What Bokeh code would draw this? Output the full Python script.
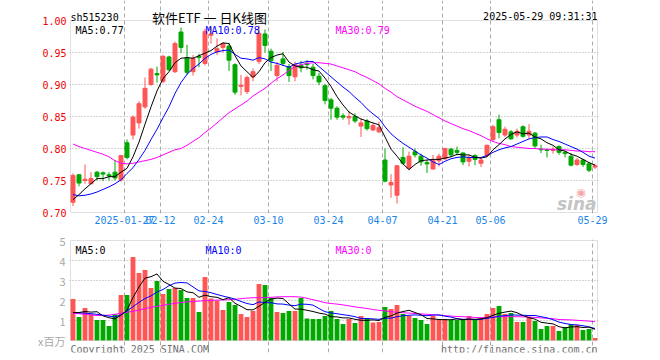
from bokeh.plotting import figure
from bokeh.models import (ColumnDataSource, FixedTicker, CustomJSTickFormatter,
                          PrintfTickFormatter, Label, Range1d, BoxAnnotation, Grid)
from bokeh.layouts import column
from bokeh.embed import file_html
from bokeh.resources import INLINE

# ---------------- data ----------------
tick_idx = [9, 15, 23, 33, 43, 52, 62, 70, 87]
tick_labels = ["2025-01-27", "02-12", "02-24", "03-10", "03-24",
               "04-07", "04-21", "05-06", "05-29"]

open_ = [0.716, 0.759, 0.750, 0.745, 0.763, 0.762, 0.759, 0.763, 0.751, 0.809,
         0.821, 0.840, 0.865, 0.900, 0.917, 0.905, 0.943, 0.920, 0.982, 0.942,
         0.920, 0.944, 0.933, 0.977, 0.951, 0.958, 0.960, 0.931, 0.897, 0.889,
         0.912, 0.936, 0.979, 0.952, 0.914, 0.940, 0.928, 0.912, 0.930, 0.933,
         0.927, 0.913, 0.898, 0.876, 0.863, 0.851, 0.848, 0.850, 0.835, 0.843,
         0.829, 0.826, 0.782, 0.743, 0.727, 0.786, 0.769, 0.795, 0.788, 0.778,
         0.768, 0.781, 0.784, 0.799, 0.797, 0.793, 0.780, 0.789, 0.777, 0.789,
         0.814, 0.845, 0.821, 0.826, 0.821, 0.834, 0.821, 0.824, 0.799, 0.798,
         0.797, 0.803, 0.794, 0.788, 0.775, 0.782, 0.776, 0.771]
high = [0.761, 0.760, 0.775, 0.763, 0.765, 0.764, 0.763, 0.782, 0.790, 0.814,
        0.852, 0.874, 0.911, 0.926, 0.928, 0.946, 0.945, 0.967, 0.989, 0.962,
        0.946, 0.948, 0.987, 0.990, 0.972, 0.966, 0.965, 0.933, 0.915, 0.914,
        0.925, 0.992, 0.986, 0.956, 0.935, 0.951, 0.932, 0.936, 0.937, 0.938,
        0.932, 0.918, 0.901, 0.879, 0.866, 0.855, 0.858, 0.855, 0.847, 0.846,
        0.840, 0.842, 0.800, 0.760, 0.774, 0.802, 0.795, 0.800, 0.792, 0.782,
        0.790, 0.792, 0.801, 0.801, 0.803, 0.794, 0.790, 0.791, 0.785, 0.806,
        0.837, 0.853, 0.834, 0.829, 0.831, 0.836, 0.838, 0.826, 0.806, 0.799,
        0.803, 0.805, 0.796, 0.793, 0.785, 0.784, 0.779, 0.776]
low = [0.710, 0.741, 0.745, 0.744, 0.750, 0.749, 0.750, 0.750, 0.748, 0.783,
       0.814, 0.831, 0.862, 0.898, 0.903, 0.902, 0.921, 0.918, 0.949, 0.915,
       0.914, 0.927, 0.930, 0.964, 0.946, 0.950, 0.921, 0.884, 0.883, 0.885,
       0.905, 0.932, 0.950, 0.921, 0.905, 0.929, 0.904, 0.905, 0.919, 0.923,
       0.908, 0.899, 0.869, 0.845, 0.845, 0.845, 0.837, 0.840, 0.818, 0.828,
       0.827, 0.824, 0.747, 0.723, 0.714, 0.775, 0.766, 0.786, 0.773, 0.762,
       0.767, 0.772, 0.782, 0.787, 0.789, 0.774, 0.772, 0.774, 0.771, 0.787,
       0.811, 0.816, 0.818, 0.814, 0.817, 0.817, 0.815, 0.801, 0.793, 0.786,
       0.792, 0.790, 0.786, 0.772, 0.773, 0.771, 0.763, 0.768]
close_ = [0.758, 0.746, 0.752, 0.753, 0.756, 0.760, 0.757, 0.754, 0.789, 0.786,
          0.849, 0.870, 0.894, 0.924, 0.915, 0.944, 0.923, 0.964, 0.958, 0.919,
          0.941, 0.942, 0.983, 0.979, 0.956, 0.964, 0.938, 0.888, 0.899, 0.911,
          0.920, 0.980, 0.961, 0.937, 0.930, 0.933, 0.914, 0.931, 0.926, 0.931,
          0.914, 0.904, 0.875, 0.863, 0.849, 0.849, 0.850, 0.843, 0.840, 0.831,
          0.836, 0.833, 0.749, 0.747, 0.773, 0.777, 0.788, 0.790, 0.779, 0.776,
          0.781, 0.788, 0.800, 0.790, 0.794, 0.779, 0.786, 0.783, 0.782, 0.805,
          0.834, 0.825, 0.830, 0.815, 0.827, 0.819, 0.827, 0.804, 0.798, 0.797,
          0.799, 0.794, 0.792, 0.774, 0.782, 0.775, 0.766, 0.773]

ma5 = [0.720, 0.728, 0.737, 0.745, 0.753, 0.753, 0.756, 0.756, 0.763, 0.769,
       0.787, 0.810, 0.838, 0.865, 0.890, 0.909, 0.920, 0.934, 0.941, 0.942,
       0.941, 0.945, 0.949, 0.953, 0.960, 0.965, 0.964, 0.945, 0.929, 0.920,
       0.911, 0.920, 0.934, 0.942, 0.946, 0.948, 0.935, 0.929, 0.927, 0.927,
       0.923, 0.921, 0.910, 0.897, 0.881, 0.868, 0.857, 0.851, 0.846, 0.843,
       0.840, 0.837, 0.818, 0.799, 0.788, 0.776, 0.767, 0.775, 0.781, 0.782,
       0.783, 0.783, 0.785, 0.787, 0.791, 0.790, 0.790, 0.786, 0.785, 0.787,
       0.798, 0.806, 0.815, 0.822, 0.826, 0.823, 0.824, 0.818, 0.815, 0.809,
       0.805, 0.798, 0.796, 0.791, 0.788, 0.783, 0.778, 0.774]
ma10 = [0.728, 0.726, 0.727, 0.729, 0.732, 0.736, 0.740, 0.745, 0.751, 0.761,
        0.770, 0.783, 0.797, 0.814, 0.830, 0.848, 0.865, 0.886, 0.903, 0.916,
        0.925, 0.932, 0.941, 0.947, 0.951, 0.953, 0.954, 0.947, 0.941, 0.940,
        0.938, 0.942, 0.940, 0.935, 0.933, 0.930, 0.927, 0.932, 0.934, 0.936,
        0.936, 0.928, 0.920, 0.912, 0.904, 0.896, 0.889, 0.880, 0.872, 0.862,
        0.854, 0.847, 0.834, 0.823, 0.815, 0.808, 0.802, 0.796, 0.790, 0.785,
        0.779, 0.775, 0.780, 0.784, 0.786, 0.787, 0.786, 0.786, 0.786, 0.789,
        0.794, 0.798, 0.801, 0.803, 0.807, 0.811, 0.815, 0.817, 0.818, 0.818,
        0.814, 0.811, 0.807, 0.803, 0.799, 0.794, 0.788, 0.785]
ma30 = [0.807, 0.803, 0.800, 0.797, 0.794, 0.791, 0.787, 0.781, 0.777, 0.776,
        0.777, 0.779, 0.781, 0.783, 0.786, 0.790, 0.794, 0.798, 0.800, 0.805,
        0.811, 0.817, 0.825, 0.832, 0.840, 0.848, 0.856, 0.862, 0.868, 0.874,
        0.882, 0.888, 0.894, 0.902, 0.909, 0.915, 0.922, 0.928, 0.931, 0.933,
        0.934, 0.934, 0.933, 0.932, 0.929, 0.926, 0.923, 0.920, 0.915, 0.911,
        0.906, 0.901, 0.894, 0.888, 0.881, 0.876, 0.871, 0.866, 0.862, 0.858,
        0.853, 0.848, 0.843, 0.839, 0.835, 0.831, 0.828, 0.824, 0.820, 0.815,
        0.811, 0.808, 0.806, 0.803, 0.802, 0.801, 0.800, 0.800, 0.799, 0.799,
        0.798, 0.798, 0.798, 0.797, 0.796, 0.796, 0.795, 0.795]

volume = [2.07, 1.17, 1.62, 1.31, 1.02, 1.02, 0.72, 1.31, 2.27, 2.27,
          4.17, 3.37, 3.52, 2.62, 2.97, 2.32, 2.57, 2.62, 2.52, 2.12,
          2.12, 1.42, 3.17, 2.10, 2.00, 1.52, 1.92, 1.77, 1.32, 1.17,
          1.47, 2.82, 2.77, 2.12, 1.42, 1.37, 1.47, 1.47, 2.12, 1.10,
          1.07, 1.07, 1.23, 1.47, 1.07, 0.82, 1.07, 0.87, 1.22, 1.07,
          0.90, 0.92, 1.67, 1.57, 1.78, 1.32, 1.23, 1.12, 1.02, 0.82,
          1.23, 1.05, 1.07, 1.02, 1.02, 1.02, 1.23, 1.02, 1.12, 1.32,
          1.62, 1.72, 1.32, 1.37, 0.92, 0.92, 1.17, 0.97, 0.57, 0.72,
          0.72, 0.47, 0.67, 0.82, 0.77, 0.52, 0.57, 0.12]
vma5 = [1.40, 1.40, 1.45, 1.42, 1.44, 1.23, 1.14, 1.08, 1.27, 1.52,
        2.15, 2.68, 3.12, 3.19, 3.33, 2.96, 2.80, 2.62, 2.60, 2.43,
        2.39, 2.16, 2.27, 2.19, 2.16, 2.04, 2.14, 1.86, 1.71, 1.54,
        1.53, 1.71, 1.91, 2.07, 2.12, 2.10, 1.83, 1.57, 1.57, 1.51,
        1.45, 1.37, 1.32, 1.19, 1.18, 1.13, 1.13, 1.06, 1.01, 1.01,
        1.03, 1.00, 1.16, 1.23, 1.37, 1.45, 1.51, 1.40, 1.29, 1.10,
        1.08, 1.05, 1.04, 1.04, 1.08, 1.04, 1.07, 1.06, 1.08, 1.14,
        1.26, 1.36, 1.42, 1.47, 1.39, 1.25, 1.14, 1.07, 0.91, 0.87,
        0.83, 0.69, 0.63, 0.68, 0.69, 0.65, 0.67, 0.56]
vma10 = [1.40, 1.38, 1.37, 1.34, 1.31, 1.27, 1.22, 1.18, 1.28, 1.48,
         1.69, 1.91, 2.10, 2.23, 2.42, 2.55, 2.74, 2.87, 2.90, 2.88,
         2.68, 2.48, 2.45, 2.39, 2.30, 2.22, 2.15, 2.07, 1.95, 1.85,
         1.79, 1.93, 1.89, 1.89, 1.83, 1.82, 1.77, 1.74, 1.82, 1.81,
         1.77, 1.60, 1.44, 1.38, 1.34, 1.29, 1.25, 1.19, 1.10, 1.10,
         1.08, 1.06, 1.11, 1.12, 1.19, 1.24, 1.26, 1.28, 1.26, 1.24,
         1.27, 1.28, 1.22, 1.17, 1.09, 1.06, 1.06, 1.05, 1.06, 1.11,
         1.15, 1.22, 1.24, 1.28, 1.27, 1.26, 1.25, 1.25, 1.19, 1.13,
         1.04, 0.92, 0.85, 0.80, 0.78, 0.74, 0.68, 0.60]
vma30 = [1.36, 1.34, 1.31, 1.28, 1.25, 1.25, 1.27, 1.31, 1.36, 1.41,
         1.46, 1.52, 1.59, 1.66, 1.71, 1.76, 1.81, 1.86, 1.90, 1.93,
         1.95, 1.97, 1.99, 2.00, 2.02, 2.03, 2.04, 2.06, 2.09, 2.12,
         2.14, 2.14, 2.14, 2.16, 2.18, 2.19, 2.19, 2.19, 2.17, 2.11,
         2.04, 1.97, 1.89, 1.85, 1.82, 1.78, 1.73, 1.68, 1.64, 1.60,
         1.55, 1.51, 1.48, 1.44, 1.41, 1.39, 1.37, 1.35, 1.33, 1.31,
         1.29, 1.27, 1.24, 1.22, 1.20, 1.19, 1.17, 1.15, 1.14, 1.16,
         1.18, 1.19, 1.19, 1.19, 1.19, 1.18, 1.175, 1.15, 1.13, 1.11,
         1.09, 1.05, 1.04, 1.03, 1.01, 0.99, 0.97, 0.94]

price_ticks = [0.70, 0.75, 0.80, 0.85, 0.90, 0.95, 1.00]
vol_ticks = [0, 1, 2, 3, 4, 5]

# ---------------- styling ----------------
RED = "#ff5555"
GREEN = "#00a800"
MONO = "DejaVu Sans Mono"
GRID = "#aaaaaa"
OUTLINE = "#999999"
PX = 6.0            # pixels per trading day
PPX = 640.0         # pixels per price unit
VPX = 20.0          # pixels per volume unit

n = len(close_)
xs = list(range(n))
colors = [RED if c >= o else GREEN for o, c in zip(open_, close_)]
src = ColumnDataSource(dict(x=xs, open=open_, high=high, low=low, close=close_,
                            vol=volume, color=colors))

x0 = -5 / 12                 # panel left edge (data units)
x1 = x0 + 527 / PX           # panel right edge
pad = 1 / PX                 # 1px breathing room so the panel border is not clipped
grid_pos = [i - 5 / 12 for i in tick_idx]
xr = Range1d(x0 - pad, x1 + pad)


def lab(p, x, y, text, color="#000000", size="10px", font=MONO, align="left",
        style="normal"):
    p.add_layout(Label(x=x, y=y, x_units="screen", y_units="screen", text=text,
                       text_color=color, text_font=font, text_font_size=size,
                       text_align=align, text_baseline="alphabetic",
                       text_font_style=style))


def plain_axis(ax, color, font, size, standoff):
    ax.axis_line_color = None
    ax.major_tick_line_color = None
    ax.minor_tick_line_color = None
    ax.major_tick_out = 0
    ax.major_tick_in = 0
    ax.major_label_standoff = standoff
    ax.major_label_text_font = font
    ax.major_label_text_font_size = size
    ax.major_label_text_color = color


# ---------------- price panel (frame also holds the header row) ----------------
p1 = figure(frame_width=529, frame_height=213, title=None,
            x_range=xr, y_range=Range1d(0.70 - 1 / PPX, 1.00 + 20 / PPX),
            output_backend="svg", toolbar_location=None,
            min_border_left=69, min_border_right=54,
            min_border_top=0, min_border_bottom=19)
p1.outline_line_color = None

p1.xaxis.ticker = FixedTicker(ticks=grid_pos)
p1.xaxis.formatter = CustomJSTickFormatter(
    args=dict(pos=tick_idx, labels=tick_labels),
    code="const i = Math.round(tick + 5/12); const k = pos.indexOf(i); return k >= 0 ? labels[k] : '';")
plain_axis(p1.xaxis[0], "#1a86e8", MONO, "10px", 2)

p1.yaxis.ticker = FixedTicker(ticks=price_ticks)
p1.yaxis.formatter = PrintfTickFormatter(format="%.2f")
plain_axis(p1.yaxis[0], "#ee0000", MONO, "10px", 3)

p1.xgrid.ticker = FixedTicker(ticks=grid_pos)
p1.xgrid.bounds = (0.70, 1.00)
p1.xgrid.grid_line_color = GRID
p1.xgrid.grid_line_dash = "4 3"
p1.ygrid.ticker = FixedTicker(ticks=price_ticks[1:-1])
p1.ygrid.bounds = (x0, x1)
p1.ygrid.grid_line_color = GRID
p1.ygrid.grid_line_dash = "1 2"

p1.add_layout(BoxAnnotation(left=x0, right=x1, bottom=0.70, top=1.00,
                            fill_color=None, line_color=OUTLINE, line_width=1))

p1.segment(x0="x", y0="low", x1="x", y1="high", line_color="color",
           line_width=1, source=src)
p1.vbar(x="x", width=0.66, top="open", bottom="close", fill_color="color",
        line_color="color", line_width=1, source=src)
p1.line(xs, ma30, line_color="#ff00ff", line_width=1)
p1.line(xs, ma10, line_color="#0000ff", line_width=1)
p1.line(xs, ma5, line_color="#000000", line_width=1)

# header (screen coords from frame bottom-left: page x-69, 213-page y)
lab(p1, 1, 196, "sh515230")
lab(p1, 140, 196, "软件ETF 一 日K线图", size="13px", font="Noto Sans CJK SC",
    align="center")
lab(p1, 528, 197, "2025-05-29 09:31:31", align="right")
lab(p1, 6, 183, "MA5:0.77")
lab(p1, 136, 183, "MA10:0.78", color="#0000ff")
lab(p1, 266, 183, "MA30:0.79", color="#ff00ff")
lab(p1, 507, 21, "◉", color="#f2a8a8", size="11px", font="DejaVu Sans")
lab(p1, 527, 10, "sina", color="#c4c4c4", size="17px", font="DejaVu Sans",
    align="right", style="bold italic")

# ---------------- volume panel (frame also holds the footer row) ----------------
p2 = figure(frame_width=529, frame_height=113, title=None,
            x_range=xr, y_range=Range1d(-12 / VPX, 5 + 1 / VPX),
            x_axis_location=None,
            output_backend="svg", toolbar_location=None,
            min_border_left=69, min_border_right=54,
            min_border_top=7, min_border_bottom=2)
p2.outline_line_color = None
p2.xgrid.visible = False
p2.add_layout(Grid(dimension=0, ticker=FixedTicker(ticks=grid_pos), bounds=(0, 5),
                   grid_line_color=GRID, grid_line_dash="4 3"))

p2.yaxis.ticker = FixedTicker(ticks=vol_ticks)
p2.yaxis.major_label_overrides = {0: "x百万"}
plain_axis(p2.yaxis[0], "#a8a8a8", "Noto Sans CJK SC", "11px", 4)
p2.ygrid.ticker = FixedTicker(ticks=vol_ticks[1:-1])
p2.ygrid.bounds = (x0, x1)
p2.ygrid.grid_line_color = GRID
p2.ygrid.grid_line_dash = "1 2"

p2.add_layout(BoxAnnotation(left=x0, right=x1, bottom=0, top=5,
                            fill_color=None, line_color=OUTLINE, line_width=1))

p2.vbar(x="x", width=0.8, top="vol", bottom=0, fill_color="color",
        line_color=None, source=src)
p2.line(xs, vma30, line_color="#ff00ff", line_width=1)
p2.line(xs, vma10, line_color="#0000ff", line_width=1)
p2.line(xs, vma5, line_color="#000000", line_width=1)

# screen coords from frame bottom-left: page x-69, 352-page y
lab(p2, 6, 102, "MA5:0")
lab(p2, 136, 102, "MA10:0", color="#0000ff")
lab(p2, 266, 102, "MA30:0", color="#ff00ff")
lab(p2, 1, 3, "Copyright 2025 SINA.COM", color="#707070")
lab(p2, 528, 3, "http://finance.sina.com.cn", color="#707070", align="right")

layout = column(p1, p2, spacing=0)
open("out.html", "w").write(file_html(layout, INLINE))
